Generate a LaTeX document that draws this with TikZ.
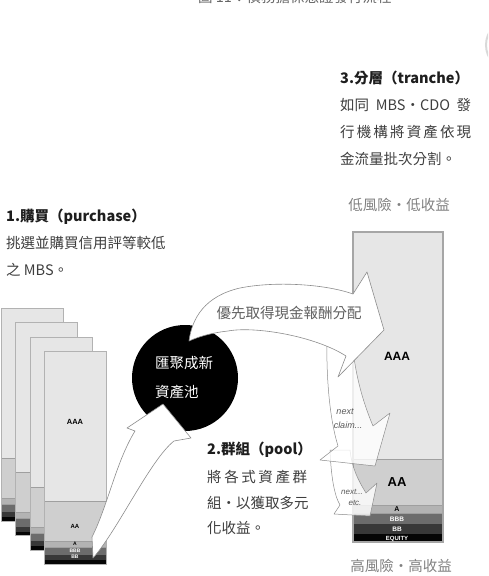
\documentclass[tikz,border=0pt]{standalone}
\usepackage{fontspec}
\setmainfont{Noto Sans CJK TC}
\newfontfamily\latinsans{Liberation Sans}
\definecolor{tAAA}{HTML}{E6E6E6}
\definecolor{tAA}{HTML}{CFCFCF}
\definecolor{tA}{HTML}{B3B3B3}
\definecolor{tBBB}{HTML}{6C6C6C}
\definecolor{tBB}{HTML}{383838}
\definecolor{tEQ}{HTML}{050505}
\definecolor{edgec}{HTML}{A6A6A6}
\definecolor{headc}{HTML}{1E1E1E}
\definecolor{bodyc}{HTML}{3E3E3E}
\definecolor{lightc}{HTML}{808080}
\definecolor{flowc}{HTML}{8C8C8C}
\newcommand\mysheet[2]{%
\begin{scope}[shift={(#1,#2)}]
\fill[tAAA] (0,0) rectangle (62,150);
\fill[tAA] (0,150) rectangle (62,190);
\fill[tA] (0,190) rectangle (62,196);
\fill[tBBB] (0,196) rectangle (62,204);
\fill[tBB] (0,204) rectangle (62,209);
\fill[tEQ] (0,209) rectangle (62,213);
\draw[bandline] (0,150) -- (62,150) (0,190) -- (62,190) (0,196) -- (62,196);
\draw[sheetedge] (0,0) rectangle (62,213);
\end{scope}}
\begin{document}
\begin{tikzpicture}[x=1pt,y=-1pt,
  txt/.style={inner sep=0pt, font=\fontsize{14.5}{17}\selectfont, text=bodyc},
  hd/.style={inner sep=0pt, font=\fontsize{14.5}{17}\selectfont\bfseries, text=headc},
  flow/.style={fill=white, draw=flowc, line width=0.6pt, line join=round},
  ghost/.style={fill=white, fill opacity=0.8, draw=flowc, draw opacity=1, line width=0.5pt, line join=round},
  tlab/.style={inner sep=0pt, font=\latinsans\bfseries\fontsize{#1}{#1}\selectfont},
  nxt/.style={inner sep=0pt, font=\latinsans\itshape\fontsize{#1}{#1}\selectfont, text=gray!70!black},
  bandline/.style={draw=gray!75, line width=0.4pt},
  sheetedge/.style={draw=gray!60, line width=0.7pt},
  baredge/.style={draw=edgec, line width=1.4pt},
]
\useasboundingbox (0,0) rectangle (488,576);
\clip (0,0) rectangle (488,576);

% partially visible title and page mark
\node[txt, anchor=west, text=gray!80!black] (title) at (198,-3) {圖 11：債務擔保憑證發行流程};
\draw[gray!30, line width=2pt] (512,45) circle (26);

% stacked MBS sheets
\mysheet{1}{308}
\mysheet{15.5}{322.5}
\mysheet{30}{337}
\mysheet{44}{351}
\node[tlab=7.5] (sAAA) at (75,422) {AAA};
\node[tlab=6] (sAA) at (75,526) {AA};
\node[tlab=5] (sA) at (75,543.5) {A};
\node[tlab=5, text=white] (sBBB) at (75,550.5) {BBB};
\node[tlab=5, text=white] (sBB) at (75,557) {BB};

% pool blob
\node[circle, fill=black, minimum size=106pt, inner sep=0pt] (pool) at (185,378) {};

% arrow from sheets to pool
\filldraw[flow] (92,537) .. controls (108,505) and (116,462) .. (135,431) -- (127,428) -- (163,404) -- (191,438) -- (174,441) .. controls (150,460) and (118,530) .. (93,558) -- cycle;

% tranche bar
\fill[tAAA] (353,232) rectangle (443,459);
\fill[tAA] (353,459) rectangle (443,505);
\fill[tA] (353,505) rectangle (443,513);
\fill[tBBB] (353,513) rectangle (443,524);
\fill[tBB] (353,524) rectangle (443,534);
\fill[tEQ] (353,534) rectangle (443,542);
\draw[bandline, line width=0.8pt] (353,459) -- (443,459) (353,505) -- (443,505) (353,513) -- (443,513);
\draw[baredge] (353,232) rectangle (443,542);
\node[tlab=12] (bAAA) at (397,356) {AAA};
\node[tlab=13] (bAA) at (397,482) {AA};
\node[tlab=7] (bA) at (397,509) {A};
\node[tlab=6.5, text=white] (bBBB) at (397,519) {BBB};
\node[tlab=6.5, text=white] (bBB) at (397,529.5) {BB};
\node[tlab=6, text=white] (bEQ) at (397,538.5) {EQUITY};

% waterfall arrows
\filldraw[ghost] (330,450) .. controls (331,475) and (334,495) .. (340,505) -- (334,514) -- (370,516) -- (377,483) -- (366,493) .. controls (358,480) and (352,468) .. (350,450) -- cycle;
\filldraw[ghost] (327,335) .. controls (326,380) and (330,420) .. (338,446) -- (320,460) -- (375,466) -- (390,413) -- (373,426) .. controls (362,400) and (354,370) .. (352,338) -- cycle;
\node[nxt=9] (nA1) at (345,412) {next};
\node[nxt=9] (nA2) at (348,425) {claim...};
\node[nxt=8] (nB1) at (352,492) {next...};
\node[nxt=8] (nB2) at (355,503) {etc.};

% priority arrow
\filldraw[flow] (189,341) .. controls (192,318) and (205,296) .. (240,288) .. controls (275,281) and (325,284) .. (353,294) -- (367,272) -- (384,330) -- (338,377) -- (346,356) .. controls (315,336) and (255,326) .. (228,331) .. controls (210,333) and (198,337) .. (189,341) -- cycle;
\node[txt, text=gray!75!black] (prio) at (289,313) {優先取得現金報酬分配};

% pool text
\node[txt, text=white, anchor=west] (pl1) at (155,363) {匯聚成新};
\node[txt, text=white, anchor=west] (pl2) at (155,392) {資產池};

% step 1
\node[hd, anchor=west] (h1) at (6,217) {1.購買（purchase）};
\node[txt, anchor=west] (a1) at (6,243) {挑選並購買信用評等較低};
\node[txt, anchor=west] (a2) at (6,270) {之 MBS。};

% step 3
\node[hd, anchor=west] (h3) at (340,78) {3.分層（tranche）};
\node[txt, anchor=west] (c1) at (340,105) {\makebox[131pt][s]{如同 MBS・CDO 發}};
\node[txt, anchor=west] (c2) at (340,132) {\makebox[131pt][s]{行\hfill 機\hfill 構\hfill 將\hfill 資\hfill 產\hfill 依\hfill 現}};
\node[txt, anchor=west] (c3) at (340,159) {金流量批次分割。};

% step 2
\node[hd, anchor=west] (h2) at (207,450) {2.群組（pool）};
\node[txt, anchor=west] (b1) at (207,477) {\makebox[100pt][s]{將\hfill 各\hfill 式\hfill 資\hfill 產\hfill 群}};
\node[txt, anchor=west] (b2) at (207,503) {組・以獲取多元};
\node[txt, anchor=west] (b3) at (207,528) {化收益。};

% risk labels
\node[txt, text=lightc] (low) at (399,205) {低風險・低收益};
\node[txt, text=lightc] (high) at (401,566) {高風險・高收益};
\end{tikzpicture}
\end{document}
